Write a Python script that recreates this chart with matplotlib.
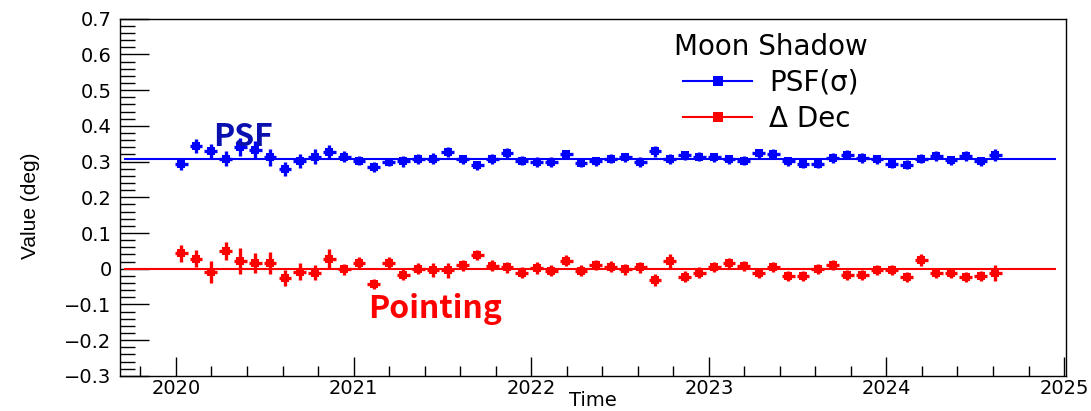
import numpy as np
import matplotlib
matplotlib.use("Agg")
import matplotlib.pyplot as plt
from matplotlib.lines import Line2D
from matplotlib.ticker import MultipleLocator, FuncFormatter, FixedLocator

# Monthly moon-shadow measurements (decimal year)
n_months = 56
time = 2020.03 + np.arange(n_months) / 12.0

# PSF width sigma (deg)
psf = [0.293, 0.344, 0.329, 0.308, 0.340, 0.333, 0.312, 0.280, 0.301, 0.314,
       0.327, 0.314, 0.303, 0.286, 0.299, 0.301, 0.306, 0.308, 0.327, 0.306,
       0.290, 0.306, 0.325, 0.303, 0.299, 0.299, 0.320, 0.297, 0.301, 0.308,
       0.312, 0.299, 0.329, 0.306, 0.318, 0.314, 0.312, 0.306, 0.303, 0.323,
       0.321, 0.301, 0.293, 0.293, 0.310, 0.319, 0.310, 0.306, 0.293, 0.291,
       0.308, 0.316, 0.304, 0.316, 0.301, 0.318]
psf_err = [0.017, 0.019, 0.021, 0.021, 0.025, 0.024, 0.023, 0.020, 0.019, 0.020,
           0.019, 0.015, 0.013, 0.014, 0.012, 0.016, 0.014, 0.016, 0.015, 0.013,
           0.013, 0.014, 0.014, 0.013, 0.013, 0.013, 0.013, 0.013, 0.013, 0.013,
           0.013, 0.013, 0.016, 0.014, 0.013, 0.013, 0.013, 0.013, 0.012, 0.013,
           0.013, 0.013, 0.012, 0.012, 0.013, 0.013, 0.013, 0.013, 0.012, 0.013,
           0.013, 0.013, 0.013, 0.013, 0.012, 0.017]

# Pointing offset in declination (deg)
dec = [0.043, 0.028, -0.009, 0.049, 0.022, 0.017, 0.017, -0.026, -0.009, -0.011,
       0.028, -0.002, 0.017, -0.043, 0.017, -0.017, 0.000, -0.004, -0.004, 0.009,
       0.037, 0.008, 0.004, -0.011, 0.002, -0.006, 0.022, -0.006, 0.011, 0.006,
       -0.002, 0.004, -0.032, 0.021, -0.022, -0.011, 0.004, 0.017, 0.008, -0.011,
       0.004, -0.020, -0.020, -0.002, 0.009, -0.017, -0.017, -0.004, -0.004, -0.022,
       0.024, -0.013, -0.013, -0.024, -0.020, -0.013]
dec_err = [0.024, 0.024, 0.031, 0.025, 0.036, 0.028, 0.031, 0.022, 0.024, 0.022,
           0.027, 0.016, 0.017, 0.015, 0.015, 0.016, 0.015, 0.020, 0.021, 0.016,
           0.014, 0.015, 0.016, 0.016, 0.016, 0.015, 0.015, 0.015, 0.014, 0.015,
           0.015, 0.015, 0.017, 0.021, 0.016, 0.016, 0.014, 0.014, 0.014, 0.014,
           0.014, 0.014, 0.014, 0.014, 0.014, 0.014, 0.014, 0.014, 0.014, 0.014,
           0.017, 0.014, 0.014, 0.014, 0.014, 0.022]

time_halfwidth = 0.036

# Constant fits
psf_fit = 0.306
dec_fit = -0.002
fit_range = (2019.71, 2024.955)

year_ticks = [2020, 2021, 2022, 2023, 2024, 2025]

BLUE = "#0000ff"
RED = "#ff0000"

plt.rcParams["font.family"] = ["DejaVu Sans"]

fig = plt.figure(figsize=(10.91, 4.11), dpi=100)
ax = fig.add_axes([0.110, 0.0856, 0.8671, 0.8687])

ax.hlines(psf_fit, *fit_range, color=BLUE, lw=1.5, zorder=2)
ax.hlines(dec_fit, *fit_range, color=RED, lw=1.5, zorder=2)

for y, yerr, c in ((psf, psf_err, BLUE), (dec, dec_err, RED)):
    ax.errorbar(time, y, xerr=time_halfwidth, yerr=yerr, fmt="s", color=c,
                ms=5.5, mew=0, elinewidth=2.4, capsize=0, zorder=3)

ax.set_xlim(2019.685, 2025.011)
ax.set_ylim(-0.3, 0.7)

ax.xaxis.set_major_locator(FixedLocator(year_ticks))
ax.xaxis.set_minor_locator(MultipleLocator(0.2))
ax.xaxis.set_major_formatter(FuncFormatter(lambda v, _: f"{int(round(v))}"))
ax.yaxis.set_major_locator(MultipleLocator(0.1))
ax.yaxis.set_minor_locator(MultipleLocator(0.02))
ax.yaxis.set_major_formatter(FuncFormatter(
    lambda v, _: "0" if abs(v) < 1e-9 else f"{v:.1f}".replace("-", "\u2212")))

ax.tick_params(axis="y", which="major", direction="in", length=21, width=1.0,
               labelsize=14, pad=6)
ax.tick_params(axis="y", which="minor", direction="in", length=11, width=1.0)
ax.tick_params(axis="x", which="major", direction="in", length=14, width=1.0,
               labelsize=14, pad=2)
ax.tick_params(axis="x", which="minor", direction="in", length=7, width=1.0)
for s in ax.spines.values():
    s.set_linewidth(1.0)

ax.set_xlabel("Time", fontsize=14)
ax.xaxis.label.set_va("bottom")
ax.xaxis.set_label_coords(0.5, -0.0957)

ax.set_ylabel("Value (deg)", fontsize=15, family=["Liberation Sans"])
ax.yaxis.label.set_va("center")
ax.yaxis.set_label_coords(-0.095, 0.476)

ax.text(2020.21, 0.344, "PSF", color="#0a10b0", fontsize=23, fontweight="bold",
        family=["Noto Sans CJK KR", "DejaVu Sans"], va="baseline", ha="left",
        zorder=5)
ax.text(2021.08, -0.138, "Pointing", color=RED, fontsize=23, fontweight="bold",
        family=["Noto Sans CJK KR", "DejaVu Sans"], va="baseline", ha="left",
        zorder=5)

handles = [
    Line2D([], [], color=BLUE, lw=1.5, marker="s", ms=7, mew=0),
    Line2D([], [], color=RED, lw=1.5, marker="s", ms=7, mew=0),
]
leg = ax.legend(handles, ["PSF(\u03c3)", "\u0394 Dec"], title="Moon Shadow",
                loc="upper left", bbox_to_anchor=(0.565, 1.016), frameon=False,
                fontsize=20, title_fontsize=20, handlelength=2.5,
                handletextpad=0.6, labelspacing=0.3, borderpad=0.2)

fig.savefig("out.png", dpi=100)
